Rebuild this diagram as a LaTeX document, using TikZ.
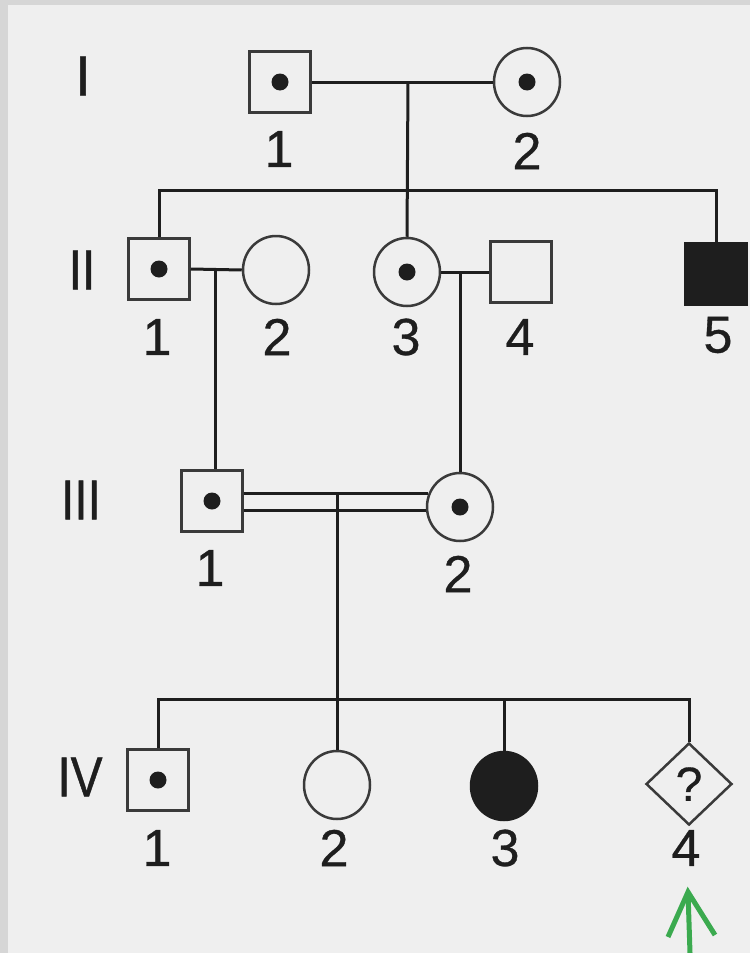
\documentclass[tikz,border=0pt]{standalone}
\usepackage{fontspec}
\setmainfont{Liberation Sans}
\newfontfamily\genfont{Liberation Sans}[FakeBold=1]
\newfontfamily\numfont{Liberation Sans}[FakeBold=0.6]
\usetikzlibrary{shapes.geometric}
\definecolor{bg}{HTML}{EFEFEF}
\definecolor{framegrey}{HTML}{D6D6D6}
\definecolor{ink}{HTML}{1E1E1E}
\definecolor{edgegrey}{HTML}{3A3A3A}
\definecolor{arrowgreen}{HTML}{3BAA4F}
\begin{document}
\begin{tikzpicture}[x=1pt,y=-1pt,
  male/.style={rectangle, draw=edgegrey, line width=2.5pt, minimum width=61pt, minimum height=61pt, inner sep=0pt, fill=bg},
  female/.style={ellipse, draw=edgegrey, line width=2.5pt, minimum width=66pt, minimum height=68pt, inner sep=0pt, fill=bg},
  affected/.style={fill=ink, draw=ink},
  unknown/.style={diamond, draw=edgegrey, line width=2.5pt, minimum width=86pt, minimum height=82pt, inner sep=0pt, fill=bg, text=ink, font=\numfont\fontsize{48}{48}\selectfont},
  carrier/.style={path picture={\fill[ink] (path picture bounding box.center) circle (8.5pt);}},
  num/.style={font=\numfont\fontsize{52}{52}\selectfont, text=ink, inner sep=0pt},
  gen/.style={font=\genfont\fontsize{56}{56}\selectfont, text=ink, inner sep=0pt},
  link/.style={draw=ink, line width=3pt},
  pointer/.style={draw=arrowgreen, line width=5pt},
]
% page, frame and background
\useasboundingbox (0,0) rectangle (750,953);
\fill[framegrey] (0,0) rectangle (750,953);
\fill[bg] (8,5) rectangle (750,953);

% generation numerals
\node[gen] (gI)   at (83,76)  {I};
\node[gen] (gII)  at (82,270) {\scalebox{0.85}[1]{II}};
\node[gen] (gIII) at (81,500) {\scalebox{0.85}[1]{III}};
\node[gen] (gIV)  at (80,777) {\scalebox{0.85}[1]{IV}};

% generation I
\node[male, carrier]   (i1) at (280,82) {};
\node[female, carrier] (i2) at (527,82) {};
\node[num] (li1) at (279,149) {1};
\node[num] (li2) at (527,151) {2};

% generation II
\node[male, carrier]   (ii1) at (159,269) {};
\node[female]          (ii2) at (276,270) {};
\node[female, carrier] (ii3) at (407,272) {};
\node[male]            (ii4) at (521,272) {};
\node[male, affected]  (ii5) at (716,274) {};
\node[num] (lii1) at (157,337) {1};
\node[num] (lii2) at (277,337) {2};
\node[num] (lii3) at (406,337) {3};
\node[num] (lii4) at (520,337) {4};
\node[num] (lii5) at (718,335) {5};

% generation III
\node[male, carrier]   (iii1) at (212,501) {};
\node[female, carrier] (iii2) at (460,507) {};
\node[num] (liii1) at (210,568) {1};
\node[num] (liii2) at (458,574) {2};

% generation IV
\node[male, carrier]   (iv1) at (158,780) {};
\node[female]          (iv2) at (337,785) {};
\node[female, affected](iv3) at (504,786) {};
\node[unknown]         (iv4) at (689,784) {?};
\node[num] (liv1) at (157,848) {1};
\node[num] (liv2) at (334,848) {2};
\node[num] (liv3) at (505,848) {3};
\node[num] (liv4) at (686,848) {4};

% helper coordinates
\coordinate (m1) at (408,82);
\coordinate (s2) at (408,190);
\coordinate (m2) at (215,270);
\coordinate (m3) at (460,272);
\coordinate (d1) at (337,493);
\coordinate (d2) at (337,510);
\coordinate (s4) at (337,699);

% generation I mating and offspring
\draw[link] (i1.east) -- (i2.west);
\draw[link] (m1) -- (ii3.north);
\draw[link] (ii1.north) -- (ii1.north |- s2) -- (ii5.north |- s2) -- (ii5.north);

% generation II matings
\draw[link] (ii1.east) -- (ii2.west);
\draw[link] (m2) -- (m2 |- iii1.north);
\draw[link] (ii3.east) -- (ii4.west);
\draw[link] (m3) -- (iii2.north);

% consanguineous mating (double line)
\draw[link] (iii1.east |- d1) -- ([xshift=2pt]iii2.west |- d1);
\draw[link] (iii1.east |- d2) -- (iii2.west |- d2);
\draw[link] (d1) -- (iv2.north);

% generation IV sibship
\draw[link] (iv1.north) -- (iv1.north |- s4) -- (iv4.north |- s4) -- (iv4.north);
\draw[link] (iv3.north |- s4) -- (iv3.north);

% proband arrow
\coordinate (pa) at (688,892);
\coordinate (pb) at (690,953);
\coordinate (pl) at (668,937);
\coordinate (pr) at (715,935);
\draw[pointer] (pb) -- (pa);
\draw[pointer] (pl) -- (pa) -- (pr);
\end{tikzpicture}
\end{document}
